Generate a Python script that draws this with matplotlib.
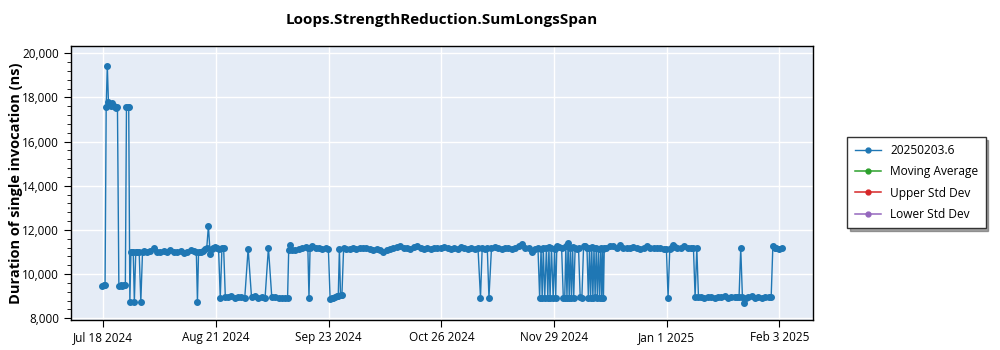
import pandas as pd
import matplotlib
matplotlib.use("Agg")
import matplotlib.pyplot as plt
import matplotlib.dates as mdates
from matplotlib.ticker import FuncFormatter, MultipleLocator

plt.rcParams['font.family'] = ['Open Sans', 'DejaVu Sans']

# benchmark runs, one inner list per calendar day (ns per invocation)
first_day = "2024-07-18"
last_day = "2025-02-04"
daily_runs = [
    [9480, 9500], [9500, 17570, 19440], [17800, 17700, 17620], [17750, 17600], [17550, 17520, 17560], [9480, 9500], [9470, 9520],
    [9500, 17560, 17580], [17550, 8750, 11000], [10980, 11010, 8740], [11000, 10990], [11020, 8750], [11000, 11030], [10990],
    [11040], [11160], [11000], [10980], [11050], [11020], [11080],
    [10990], [11000], [11060], [10970], [11000], [11100], [11030],
    [11020, 8750, 11000], [10990], [11050, 11150], [11180, 12180], [10920, 11150], [11180, 11220], [11200, 11150],
    [8920, 11180], [11200, 8950], [8960], [8990], [8900], [8940], [8980],
    [8920], [11150], [8950], [8990], [8930], [8960], [8900],
    [11200], [8940], [8970], [8910], [8930], [8900], [8920, 11070, 11330],
    [11100], [11080], [11150], [11200], [11220], [11180, 8920, 11200], [11250],
    [11180], [11200], [11150], [11180], [11120, 8880], [8900, 8930], [8960, 8990],
    [9020, 11150, 9030], [9060, 11170], [11150], [11130], [11170], [11120], [11200],
    [11160], [11180], [11140], [11100], [11130], [11080], [11020],
    [11100], [11150], [11200], [11230], [11290], [11200], [11180],
    [11150], [11220], [11260], [11200], [11150], [11180], [11120],
    [11160], [11200], [11170], [11230], [11180], [11150], [11190],
    [11140], [11210], [11160], [11130], [11180], [11150], [11200],
    [8930, 11180], [11150], [11200, 8930], [11170], [11220], [11160], [11130],
    [11180], [11200], [11150], [11170], [11250], [11360], [11200],
    [11160], [10990], [11150], [11200, 8930], [11150, 8920, 11200], [8900, 11180], [8930, 11220, 8910],
    [11200, 8920], [11150, 8930, 11250], [11220], [11180, 8920], [8900, 11250, 8930], [11400, 8920, 11200], [8910, 11220, 8930],
    [11180, 11150], [11200, 8950], [8930, 11260], [11260, 11180], [8920, 11200, 8930], [11220, 8900, 11180], [8980, 11200, 8930],
    [11150, 8920, 11200], [8910, 11150, 8930, 11160], [11200], [11280], [11250], [11180], [11300],
    [11200], [11160], [11190], [11230], [11170], [11150], [11200],
    [11250], [11180], [11160], [11200], [11180], [11150], [11150, 8930],
    [11150, 11200], [11330, 11220], [11180], [11200], [11250], [11180], [11160],
    [11200, 8950], [11180, 8940], [8960], [8920], [8980], [8950], [8900],
    [8970], [8940], [8990], [8930], [8960], [8950], [8980, 8960],
    [11170, 8950], [8710, 8900], [8960], [8990], [8930], [8950], [8920],
    [8970], [8940], [8950, 11250], [11180, 11200], [11150], [11170],
]

# statistics series (no values computed for this benchmark)
moving_average = []
upper_std_dev = []
lower_std_dev = []

series_name = "20250203.6"
tick_labels = ["Jul 18 2024", "Aug 21 2024", "Sep 23 2024", "Oct 26 2024",
               "Nov 29 2024", "Jan 1 2025", "Feb 3 2025"]

days = pd.date_range(first_day, last_day, freq="D")
assert len(days) == len(daily_runs)

times = []
values = []
for day, runs in zip(days, daily_runs):
    # spread the runs of one day over that day
    for i, v in enumerate(runs):
        times.append(day + pd.Timedelta(days=(i + 0.5) / len(runs)))
        values.append(v)

fig = plt.figure(figsize=(10, 3.5), dpi=100)
ax = fig.add_axes([0.0707, 0.0871, 0.742, 0.7815])
ax.set_facecolor("#E5ECF6")

ax.plot(times, values, color="#1f77b4", lw=1.0, marker="o", ms=4, label=series_name)
ax.plot(moving_average, moving_average, color="#2ca02c", lw=1.1, marker="o", ms=3.5, label="Moving Average")
ax.plot(upper_std_dev, upper_std_dev, color="#d62728", lw=1.1, marker="o", ms=3.5, label="Upper Std Dev")
ax.plot(lower_std_dev, lower_std_dev, color="#9467bd", lw=1.1, marker="o", ms=3.5, label="Lower Std Dev")

# date ticks are evenly spaced between the first and last label
tick_start = pd.Timestamp("2024-07-18 16:00")
tick_end = pd.Timestamp("2025-02-03 16:00")
step = (tick_end - tick_start) / (len(tick_labels) - 1)
tick_pos = [mdates.date2num(tick_start + k * step) for k in range(len(tick_labels))]
ax.set_xticks(tick_pos)
ax.set_xticklabels(tick_labels)
ax.set_xlim(mdates.date2num(pd.Timestamp("2024-07-09 00:00")),
            mdates.date2num(pd.Timestamp("2025-02-13 13:00")))

ax.set_ylim(7940, 20330)
ax.yaxis.set_major_locator(MultipleLocator(2000))
ax.yaxis.set_minor_locator(MultipleLocator(400))
ax.yaxis.set_major_formatter(FuncFormatter(lambda v, p: f"{v:,.0f}"))

ax.grid(True, which="major", color="white", lw=1)
ax.set_axisbelow(True)
for s in ax.spines.values():
    s.set_color("black")
    s.set_linewidth(1)
ax.tick_params(axis="both", which="major", direction="out", length=5, labelsize=8.5, colors="black")
ax.tick_params(axis="y", which="minor", direction="out", length=3)

ax.set_ylabel("Duration of single invocation (ns)", fontsize=10.5, fontweight="bold", labelpad=-1)
ax.set_title("Loops.StrengthReduction.SumLongsSpan", fontsize=11, fontweight="bold", pad=16)

leg = fig.legend(loc="center", bbox_to_anchor=(0.9165, 0.4786), fontsize=8.6,
                 frameon=True, fancybox=False, shadow=True, handlelength=2.2,
                 handletextpad=0.8, labelspacing=0.7, borderpad=0.6)
leg.get_frame().set_edgecolor("#333333")
leg.get_frame().set_linewidth(1)
leg.legend_handles[0].set_markersize(3.5)

fig.savefig("out.png", dpi=100)
